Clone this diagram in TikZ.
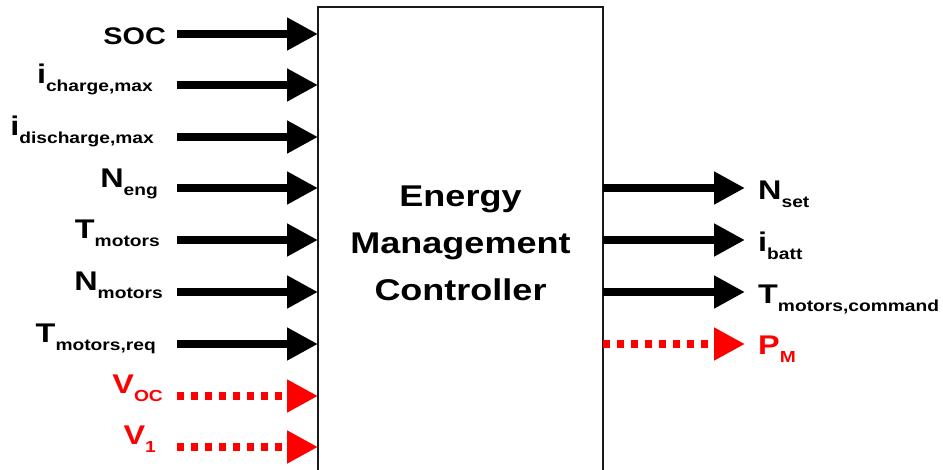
\documentclass[tikz,border=0pt]{standalone}
\usepackage{fontspec}
\setmainfont{Liberation Sans}[FakeStretch=1.2]
\usepackage{tikz}
\usetikzlibrary{arrows.meta}
\definecolor{emcred}{RGB}{255,0,0}
\definecolor{emcdark}{RGB}{25,25,25}
% symbol with a lowered subscript
\newcommand{\sig}[2]{#1\raisebox{-8pt}{\fontsize{16}{16}\selectfont #2}}
\tikzset{
  emcbox/.style={rectangle, draw=emcdark, line width=2pt, fill=white,
    minimum width=285pt, minimum height=520pt, anchor=north,
    inner sep=0pt, outer sep=0pt},
  emctext/.style={align=center, font=\bfseries\fontsize{30}{47}\selectfont},
  arrow/.style={-{Triangle[length=31pt, width=31pt]}, line width=8pt, color=black},
  redarrow/.style={arrow, color=emcred, dash pattern=on 7pt off 7pt},
  inlbl/.style={anchor=base east, inner sep=0pt, font=\bfseries\fontsize{27}{27}\selectfont},
  outlbl/.style={anchor=base west, inner sep=0pt, font=\bfseries\fontsize{27}{27}\selectfont},
  redlbl/.style={text=emcred}
}

\begin{document}
\begin{tikzpicture}[x=1pt, y=-1pt]
  \useasboundingbox (0,0) rectangle (943,469);
  \clip (0,0) rectangle (943,469);

  % ── controller block (runs past the lower edge) ────────────────────────
  \node[emcbox] (emc) at (460.5,7) {};
  \node[emctext] (emcname) at (460.5,243) {Energy\\Management\\Controller};

  % ── input signals ───────────────────────────────────────────────────────
  \node[inlbl, font=\bfseries\fontsize{24}{24}\selectfont] (soc) at (166,44) {SOC};
  \node[inlbl] (ichg) at (153,83)  {\sig{i}{charge,max}};
  \node[inlbl] (idis) at (154,135) {\sig{i}{discharge,max}};
  \node[inlbl] (neng) at (158,187) {\sig{N}{eng}};
  \node[inlbl] (tmot) at (160,238) {\sig{T}{motors}};
  \node[inlbl] (nmot) at (163,290) {\sig{N}{motors}};
  \node[inlbl] (treq) at (156,342) {\sig{T}{motors,req}};
  \node[inlbl, redlbl] (voc)  at (163,393) {\sig{V}{OC}};
  \node[inlbl, redlbl] (vone) at (156,444) {\sig{V}{1}};

  \coordinate (in1) at (177,34);
  \coordinate (in2) at (177,85);
  \coordinate (in3) at (177,137);
  \coordinate (in4) at (177,188);
  \coordinate (in5) at (177,240);
  \coordinate (in6) at (177,292);
  \coordinate (in7) at (177,344);
  \coordinate (in8) at (177,396);
  \coordinate (in9) at (177,447);

  \draw[arrow] (in1) -- (in1 -| emc.west);
  \draw[arrow] (in2) -- (in2 -| emc.west);
  \draw[arrow] (in3) -- (in3 -| emc.west);
  \draw[arrow] (in4) -- (in4 -| emc.west);
  \draw[arrow] (in5) -- (in5 -| emc.west);
  \draw[arrow] (in6) -- (in6 -| emc.west);
  \draw[arrow] (in7) -- (in7 -| emc.west);
  \draw[redarrow] (in8) -- (in8 -| emc.west);
  \draw[redarrow] (in9) -- (in9 -| emc.west);

  % ── output signals ──────────────────────────────────────────────────────
  \coordinate (out1) at (745,188);
  \coordinate (out2) at (745,240);
  \coordinate (out3) at (745,292);
  \coordinate (out4) at (745,344);

  \draw[arrow] (out1 -| emc.east) -- (out1);
  \draw[arrow] (out2 -| emc.east) -- (out2);
  \draw[arrow] (out3 -| emc.east) -- (out3);
  \draw[redarrow] (out4 -| emc.east) -- (out4);

  \node[outlbl] (nset)  at (758,199) {\sig{N}{set}};
  \node[outlbl] (ibatt) at (758,251) {\sig{i}{batt}};
  \node[outlbl] (tcmd)  at (758,303) {\sig{T}{motors,command}};
  \node[outlbl, redlbl] (pm) at (758,354) {\sig{P}{M}};
\end{tikzpicture}
\end{document}
